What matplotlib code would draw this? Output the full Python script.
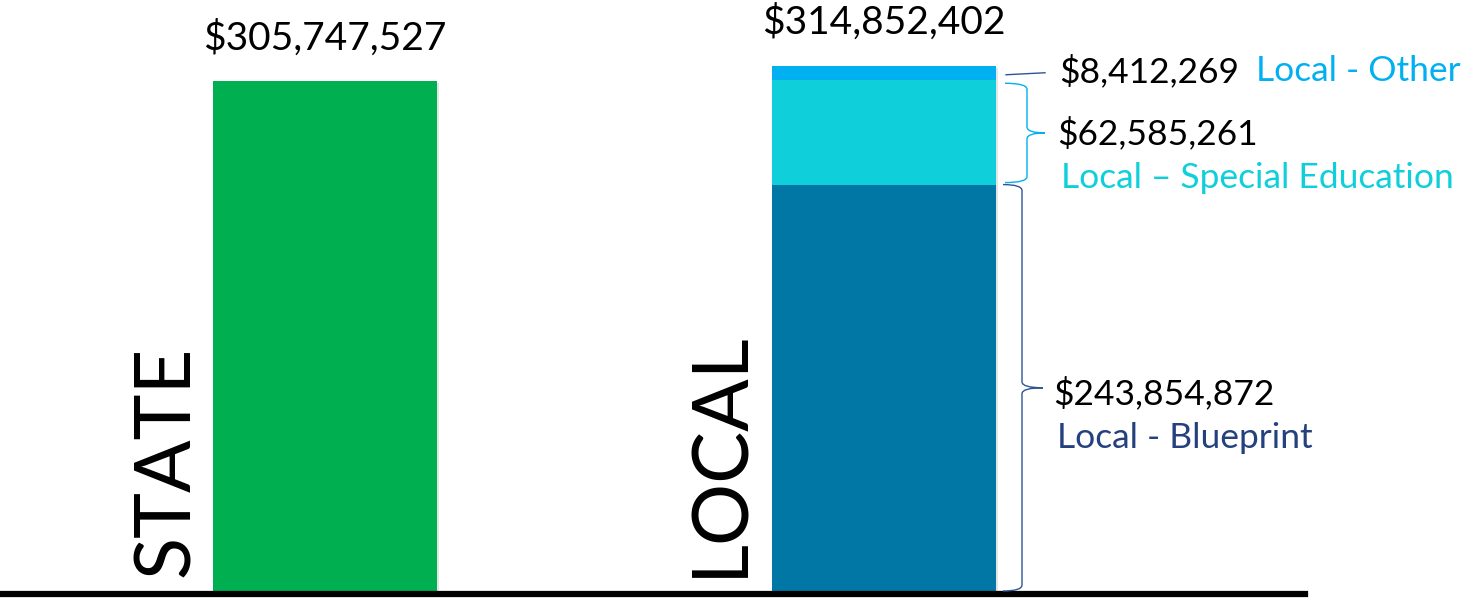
import matplotlib
matplotlib.use("Agg")
import matplotlib.pyplot as plt
from matplotlib.path import Path
from matplotlib.patches import PathPatch
import matplotlib.patheffects as pe

plt.rcParams['font.family'] = ['Lato', 'DejaVu Sans']

# ---- data ----
categories = ["STATE", "LOCAL"]
state_total = 305747527
local_segments = ["Local - Blueprint", "Local \u2013 Special Education", "Local - Other"]
local_values = [243854872, 62585261, 8412269]
local_total = 314852402
total_labels = ["$305,747,527", "$314,852,402"]
segment_value_labels = ["$243,854,872", "$62,585,261", "$8,412,269"]

state_color = "#00B050"
seg_colors = ["#0077A4", "#0ECFDA", "#00B0F0"]
seg_text_colors = ["#24407F", "#0ECFDA", "#00B0F0"]
brace_colors = ["#2F5597", "#00B0F0", "#2F5597"]

# ---- figure ----
W, H = 1463, 600
fig = plt.figure(figsize=(W / 100, H / 100), dpi=100)
ax = fig.add_axes([0, 0, 1, 1])
ax.axis('off')

px_per_unit = 558.5
S = 600000.0  # value per pixel
ax.set_xlim(-325 / px_per_unit, (W - 325) / px_per_unit)
ax.set_ylim(-9 * S, 591 * S)

bw = 224 / px_per_unit
shadow = [pe.SimplePatchShadow(offset=(1.5, -1.0), shadow_rgbFace='#999999', alpha=0.25), pe.Normal()]

# state bar
b = ax.bar(0, state_total, width=bw, color=state_color, zorder=3)
for p in b:
    p.set_path_effects(shadow)

# local stacked (shadow from a full-height backing bar)
bk = ax.bar(1, local_total, width=bw, color='white', zorder=2)
for p in bk:
    p.set_path_effects(shadow)
bottom = 0
seg_bounds = []
for v, c in zip(local_values, seg_colors):
    ax.bar(1, v, width=bw, bottom=bottom, color=c, zorder=3, linewidth=0)
    seg_bounds.append((bottom, bottom + v))
    bottom += v

# baseline
ax.axhline(-3 * S, xmin=0, xmax=1305 / W, color='black', lw=4.5, zorder=4)

# totals
for x, tot, lab in zip([0, 1], [state_total, local_total], total_labels):
    ax.annotate(lab, xy=(x, tot), xytext=(0, 31.5), textcoords='offset points',
                ha='center', va='center', fontsize=28, color='black')

# rotated category labels
for x, lab, off in zip([0, 1], categories, [-7, -11]):
    ax.annotate(lab, xy=(x - bw / 2, 0), xytext=(off, 10), textcoords='offset points',
                rotation=90, ha='right', va='bottom', fontsize=56, color='black')


def brace(y0, y1, xb, xl, xt, color, r=6 * S):
    ym = (y0 + y1) / 2
    verts = [
        (xb, y1), (xl, y1), (xl, y1 - r),
        (xl, ym + r),
        (xl, ym), (xt, ym),
        (xl, ym), (xl, ym - r),
        (xl, y0 + r),
        (xl, y0), (xb, y0),
    ]
    codes = [Path.MOVETO, Path.CURVE3, Path.CURVE3,
             Path.LINETO,
             Path.CURVE3, Path.CURVE3,
             Path.CURVE3, Path.CURVE3,
             Path.LINETO,
             Path.CURVE3, Path.CURVE3]
    ax.add_patch(PathPatch(Path(verts, codes), fill=False, edgecolor=color, lw=1.0, zorder=5))


def px(x):
    return 1 + (x - 883.5) / px_per_unit


# braces
b0 = seg_bounds[0]
brace(b0[0], b0[1], px(1003), px(1022), px(1043), brace_colors[0])
b1 = seg_bounds[1]
brace(b1[0] + 2 * S, b1[1] - 3 * S, px(1005), px(1027), px(1045), brace_colors[1])
b2 = seg_bounds[2]
ym2 = (b2[0] + b2[1]) / 2
ax.plot([px(1006), px(1045)], [ym2 - 1.5 * S, ym2 + 0.5 * S], color=brace_colors[2], lw=1.0, zorder=5)

fs = 25.5
# blueprint
ax.annotate(segment_value_labels[0], xy=(px(1053), (b0[0] + b0[1]) / 2), xytext=(0, -4),
            textcoords='offset points', ha='left', va='center', fontsize=fs, color='black')
ax.annotate(local_segments[0], xy=(px(1057), (b0[0] + b0[1]) / 2), xytext=(0, -36),
            textcoords='offset points', ha='left', va='center', fontsize=fs, color=seg_text_colors[0])
# special ed
ax.annotate(segment_value_labels[1], xy=(px(1057), (b1[0] + b1[1]) / 2), xytext=(0, -1),
            textcoords='offset points', ha='left', va='center', fontsize=fs, color='black')
ax.annotate(local_segments[1], xy=(px(1061), (b1[0] + b1[1]) / 2), xytext=(0, -33),
            textcoords='offset points', ha='left', va='center', fontsize=fs, color=seg_text_colors[1])
# other
ax.annotate(segment_value_labels[2], xy=(px(1059), ym2), xytext=(0, 1.5),
            textcoords='offset points', ha='left', va='center', fontsize=fs, color='black')
ax.annotate(local_segments[2], xy=(px(1256), ym2), xytext=(0, 1.5),
            textcoords='offset points', ha='left', va='center', fontsize=fs, color=seg_text_colors[2])

fig.savefig("out.png", dpi=100)
